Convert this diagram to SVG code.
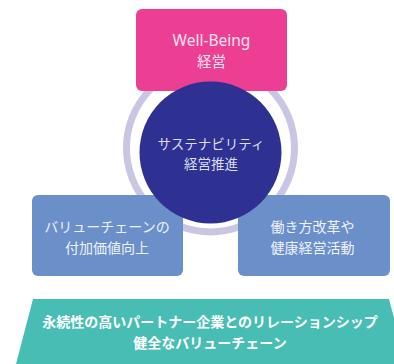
<svg xmlns="http://www.w3.org/2000/svg" width="394" height="364" viewBox="0 0 394 364">
  <style>
    text { font-family: "Noto Sans", "Noto Sans CJK JP", sans-serif; text-anchor: middle; }
    .box { stroke: none; }
    .pink { fill: #EC3E93; }
    .blue { fill: #6A8FC9; }
    .navy { fill: #2E3192; }
    .teal { fill: #48BDB4; }
    .t-pink { fill: #FBE3EF; font-size: 15.5px; }
    .t-navy { fill: #DCDDF0; font-size: 13.5px; }
    .t-blue { fill: #EEF2FA; font-size: 14px; }
    .t-teal { fill: #FFFFFF; font-size: 14px; font-weight: bold; }
  </style>
  <g id="connectors"></g>
  <g id="ring">
    <circle cx="210.5" cy="148" r="84" fill="none" stroke="#C9C6E3" stroke-width="7"/>
  </g>
  <g id="wellbeing">
    <rect class="box pink" x="136" y="9" width="151" height="82" rx="6"/>
    <text class="t-pink" x="211.5" y="45.5">Well-Being</text>
    <text class="t-pink" x="211.5" y="67" style="font-size:14.5px">経営</text>
  </g>
  <g id="valuechain">
    <rect class="box blue" x="32" y="195" width="151" height="81" rx="6"/>
    <text class="t-blue" x="107" y="232">バリューチェーンの</text>
    <text class="t-blue" x="107" y="253">付加価値向上</text>
  </g>
  <g id="workstyle">
    <rect class="box blue" x="238" y="195" width="152" height="81" rx="6"/>
    <text class="t-blue" x="312.5" y="232">働き方改革や</text>
    <text class="t-blue" x="312.5" y="253">健康経営活動</text>
  </g>
  <g id="sustainability">
    <circle class="navy" cx="210.5" cy="152.5" r="71"/>
    <text class="t-navy" x="211" y="149">サステナビリティ</text>
    <text class="t-navy" x="211" y="169">経営推進</text>
  </g>
  <g id="partnership">
    <polygon class="teal" points="33,299 389,299 406,364 16,364"/>
    <text class="t-teal" x="210" y="327">永続性の高いパートナー企業とのリレーションシップ</text>
    <text class="t-teal" x="210" y="348">健全なバリューチェーン</text>
  </g>
</svg>
